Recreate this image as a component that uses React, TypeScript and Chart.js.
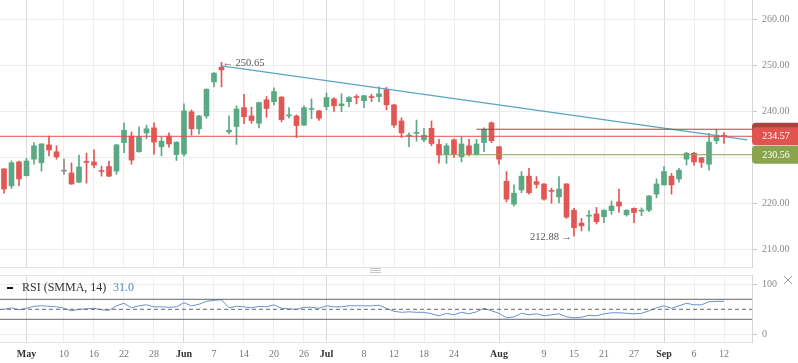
import React, { useEffect, useRef } from "react";
import { Chart, registerables } from "chart.js";
Chart.register(...registerables);

// ---------- data ----------
const opens = [227.5,223.8,229.0,226.0,229.6,228.8,232.7,231.2,227.0,226.6,224.6,229.0,229.0,227.1,228.0,227.0,233.2,234.6,231.2,235.3,236.4,232.3,234.6,230.6,230.7,239.9,236.2,239.0,246.4,249.6,235.5,236.7,240.8,239.0,237.4,242.5,242.1,243.1,239.0,239.0,237.0,240.4,240.1,241.0,242.7,241.2,242.1,243.2,242.3,243.2,243.2,244.8,241.4,237.9,234.6,235.2,233.8,236.3,232.8,230.7,233.8,230.1,232.5,230.7,233.2,237.5,232.3,224.8,219.8,222.9,225.9,224.7,224.2,222.8,221.4,224.2,218.5,215.7,217.2,217.7,217.1,218.4,220.3,217.5,218.9,218.3,218.5,222.0,224.0,225.9,225.3,229.6,230.9,229.9,228.5,233.6,234.7];
const highs = [227.5,229.2,229.2,229.8,233.2,233.0,234.6,232.5,229.6,228.8,230.5,230.9,231.6,228.1,229.2,232.8,237.5,235.5,236.6,237.0,237.5,234.5,235.3,233.4,241.6,240.3,239.1,244.9,248.4,250.65,239.0,241.2,243.7,240.9,242.0,243.2,245.1,243.2,240.8,239.2,241.2,242.7,240.2,244.0,243.0,243.8,243.2,243.6,243.5,243.7,245.3,245.2,241.5,238.6,235.3,238.1,236.3,237.9,233.9,233.0,234.0,234.5,233.9,233.9,236.4,237.7,232.4,226.9,224.0,226.9,227.6,225.8,224.3,223.3,225.8,224.3,218.9,216.7,218.4,219.1,218.6,220.5,223.1,218.6,219.0,219.0,221.7,225.3,228.0,226.5,227.6,231.1,231.1,230.0,235.2,236.1,235.4];
const lows = [222.2,223.2,223.8,225.9,228.5,227.0,230.3,229.6,226.3,224.1,224.5,224.4,227.7,225.9,225.8,226.3,231.0,228.5,231.1,234.0,230.7,230.3,232.2,229.3,230.3,234.8,235.1,238.5,245.3,245.3,235.1,232.8,237.3,237.4,236.4,238.7,241.4,237.7,238.5,234.3,236.9,238.4,238.0,240.3,240.0,239.9,241.0,241.6,240.8,242.1,242.1,240.3,236.5,234.3,232.3,233.5,233.4,232.5,228.7,228.7,230.0,229.0,230.3,230.5,231.2,233.2,228.5,220.3,219.4,222.3,222.0,223.3,220.7,220.0,220.1,216.7,212.88,214.0,214.0,215.5,215.8,217.6,218.0,217.2,215.8,217.3,218.2,221.2,224.0,222.0,224.6,228.3,228.3,227.8,227.2,233.0,233.0];
const closes = [223.1,228.8,225.3,229.2,232.5,232.9,231.6,230.1,227.0,224.2,227.9,228.9,228.3,226.9,225.9,232.7,235.9,229.4,234.5,236.2,233.3,233.5,232.9,233.3,240.1,236.2,239.0,244.8,248.3,249.0,235.9,240.5,238.8,238.0,241.9,240.6,244.3,238.2,239.1,236.9,240.8,240.6,238.5,243.0,241.2,241.6,243.0,243.0,243.4,243.0,243.8,241.4,237.0,235.3,234.8,235.4,234.8,233.0,230.5,232.5,230.7,232.9,230.7,232.9,236.1,233.6,229.6,220.9,222.2,225.9,222.3,224.1,220.9,222.6,223.1,217.0,214.7,215.1,217.4,216.0,218.5,219.4,219.4,218.5,218.0,218.5,221.6,224.2,226.9,224.0,227.2,230.9,229.0,228.9,233.3,234.8,234.57];
const rsiValues = [50,53,49,52,56,57,56,55,52,47,50,51,52,49,48,57,62,53,57,59,55,55,54,55,63,57,60,66,68,69,53,56,55,53,56,55,59,52,51,50,54,54,52,57,55,55,57,57,57,57,58,52,46,44,45,44,44,41,37,42,39,44,41,45,52,47,42,33,35,42,39,41,37,39,41,35,33,34,38,37,41,43,43,42,41,42,47,53,57,52,57,62,59,59,65,66,66];

const tickIndex = [3,8,12,16,20,24,28,32,36,40,43,48,52,56,60,66,72,76,80,84,88,92,96];
const tickLabels = ["May","10","16","22","28","Jun","7","14","20","26","Jul","8","12","18","24","Aug","9","15","21","27","Sep","6","12"];
const monthNames = ["May","Jun","Jul","Aug","Sep"];
const priceTicks = [210,220,230,240,250,260];
const rsiTicks = [0,100];

const lastClose = 234.57;
const supportLevel = 230.56;
const resistanceLevel = 236.1;
const supportStart = 58.1;
const resistanceStart = 63.0;
const trendX = [29.0, 99.1];
const trendY = [249.9, 233.8];
const highMarkIndex = 29;
const highMarkValue = 250.65;
const lowMarkIndex = 76;
const lowMarkValue = 212.88;
const rsiLegendValue = "31.0";

// ---------- view constants ----------
const X_MIN = -0.533;
const X_MAX = 99.733;
const FONT = "'Liberation Serif', 'Times New Roman', serif";
const GREEN = "#5ba885";
const RED = "#e05753";
const GRAY = "#8c8c8c";

const labelFor = (v: number) => {
  const k = tickIndex.indexOf(v);
  return k >= 0 ? tickLabels[k] : "";
};
const isMonth = (v: number) => monthNames.includes(labelFor(v));

const candleColors = opens.map((o, i) =>
  closes[i] > o ? GREEN : closes[i] < o ? RED : GRAY
);

const fitY = (s: any) => {
  s.width = 46;
  s.paddingTop = 0;
  s.paddingBottom = 0;
};

export default function App() {
  const mainRef = useRef<HTMLCanvasElement | null>(null);
  const rsiRef = useRef<HTMLCanvasElement | null>(null);

  useEffect(() => {
    const idx = opens.map((_, i) => i);
    const xGridColor = (ctx: any) =>
      ctx.tick && isMonth(ctx.tick.value) ? "#dadada" : "#efefef";

    const mainPlugin = {
      id: "mainDecor",
      afterDatasetsDraw(chart: any) {
        const { ctx, scales } = chart;
        const xs = scales.x, ys = scales.y;
        ctx.save();
        ctx.fillStyle = "#555";
        ctx.font = `10.5px ${FONT}`;
        ctx.textBaseline = "middle";
        ctx.textAlign = "left";
        ctx.fillText("\u2190 " + highMarkValue.toFixed(2), xs.getPixelForValue(highMarkIndex) + 1, ys.getPixelForValue(highMarkValue) + 1);
        ctx.textAlign = "right";
        ctx.fillText(lowMarkValue.toFixed(2) + " \u2192", xs.getPixelForValue(lowMarkIndex) - 2, ys.getPixelForValue(lowMarkValue) + 1);
        ctx.restore();
      },
      afterDraw(chart: any) {
        const { ctx, scales, chartArea } = chart;
        const ys = scales.y;
        const left = chartArea.right;
        const tag = (value: number, color: string, text: string | null, shift: number) => {
          const y = ys.getPixelForValue(value) + shift;
          ctx.beginPath();
          ctx.fillStyle = color;
          ctx.roundRect(left, y - 9, 50, 18, [4, 0, 0, 4]);
          ctx.fill();
          if (text) {
            ctx.fillStyle = "#fff";
            ctx.font = `10px ${FONT}`;
            ctx.textAlign = "center";
            ctx.textBaseline = "middle";
            ctx.fillText(text, left + 24, y + 0.5);
          }
        };
        ctx.save();
        tag(resistanceLevel, "#a8433f", null, 2.5);
        tag(lastClose, "#e0534f", lastClose.toFixed(2), 0);
        tag(supportLevel, "#8aa44c", supportLevel.toFixed(2), 0);
        ctx.restore();
      },
    };

    const main = new Chart(mainRef.current!, {
      type: "bar",
      data: {
        datasets: [
          {
            type: "line",
            data: [{ x: X_MIN, y: lastClose }, { x: X_MAX, y: lastClose }],
            borderColor: "#e0514d",
            borderWidth: 1,
            pointRadius: 0,
            order: 0,
          } as any,
          {
            type: "line",
            data: [{ x: resistanceStart, y: resistanceLevel }, { x: X_MAX, y: resistanceLevel }],
            borderColor: "#a8433f",
            borderWidth: 1,
            pointRadius: 0,
            order: 0,
          },
          {
            type: "line",
            data: [{ x: supportStart, y: supportLevel }, { x: X_MAX, y: supportLevel }],
            borderColor: "#8aa44c",
            borderWidth: 1,
            pointRadius: 0,
            order: 0,
          },
          {
            type: "line",
            data: [{ x: trendX[0], y: trendY[0] }, { x: trendX[1], y: trendY[1] }],
            borderColor: "#58a6c0",
            borderWidth: 1.3,
            pointRadius: 0,
            order: 0,
          },
          {
            type: "bar",
            data: idx.map((i) => ({ x: i, y: [lows[i], highs[i]] })),
            backgroundColor: candleColors,
            barThickness: 1,
            grouped: false,
            order: 2,
          },
          {
            type: "bar",
            data: idx.map((i) => ({ x: i, y: [opens[i], closes[i]] })),
            backgroundColor: candleColors,
            barThickness: 5,
            minBarLength: 1,
            grouped: false,
            order: 1,
          },
        ] as any,
      },
      options: {
        animation: false,
        responsive: false,
        maintainAspectRatio: false,
        layout: { padding: 0 },
        plugins: { legend: { display: false }, tooltip: { enabled: false } },
        scales: {
          x: {
            type: "linear",
            offset: false,
            min: X_MIN,
            max: X_MAX,
            afterBuildTicks: (s: any) => { s.ticks = tickIndex.map((v) => ({ value: v })); },
            ticks: { display: false },
            grid: { color: xGridColor, drawTicks: false, offset: false },
            border: { display: true, color: "#e2e2e2" },
            afterFit: (s: any) => { s.height = 1; s.paddingLeft = 0; s.paddingRight = 0; },
          },
          y: {
            position: "right",
            min: 206.15,
            max: 264.2,
            afterBuildTicks: (s: any) => { s.ticks = priceTicks.map((v) => ({ value: v })); },
            ticks: {
              callback: (v: any) => Number(v).toFixed(2),
              font: { family: FONT, size: 10 },
              color: "#8a8a8a",
              padding: 5,
            },
            grid: { color: "#ececec", tickLength: 5, tickColor: "#c8c8c8" },
            border: { color: "#d6d6d6" },
            afterFit: fitY,
          },
        },
      } as any,
      plugins: [mainPlugin],
    });

    const rsiPlugin = {
      id: "rsiDecor",
      afterDraw(chart: any) {
        const { ctx, chartArea } = chart;
        ctx.save();
        ctx.strokeStyle = "#e2e2e2";
        ctx.lineWidth = 1;
        ctx.beginPath();
        ctx.moveTo(0, chartArea.top + 0.5);
        ctx.lineTo(chartArea.right, chartArea.top + 0.5);
        ctx.stroke();
        ctx.strokeStyle = "#c8c8c8";
        for (let k = 0; k < 3; k++) {
          ctx.beginPath();
          ctx.moveTo(370, 1.5 + k * 2);
          ctx.lineTo(381, 1.5 + k * 2);
          ctx.stroke();
        }
        ctx.strokeStyle = "#9a9a9a";
        ctx.beginPath();
        ctx.moveTo(784, 9); ctx.lineTo(792, 17);
        ctx.moveTo(792, 9); ctx.lineTo(784, 17);
        ctx.stroke();
        ctx.fillStyle = "#111";
        ctx.fillRect(7, 20, 6, 2);
        ctx.font = `12px ${FONT}`;
        ctx.textBaseline = "middle";
        ctx.textAlign = "left";
        ctx.fillStyle = "#333";
        ctx.fillText("RSI (SMMA, 14)", 22, 21);
        ctx.fillStyle = "#5b85c2";
        ctx.fillText(rsiLegendValue, 113, 21);
        ctx.restore();
      },
    };

    const rsi = new Chart(rsiRef.current!, {
      type: "line",
      data: {
        datasets: [
          {
            data: [{ x: X_MIN, y: 70 }, { x: X_MAX, y: 70 }],
            borderColor: "#666",
            borderWidth: 1,
            pointRadius: 0,
          },
          {
            data: [{ x: X_MIN, y: 30 }, { x: X_MAX, y: 30 }],
            borderColor: "#666",
            borderWidth: 1,
            pointRadius: 0,
          },
          {
            data: [{ x: X_MIN, y: 50 }, { x: X_MAX, y: 50 }],
            borderColor: "#666",
            borderWidth: 1,
            borderDash: [4, 3],
            pointRadius: 0,
          },
          {
            data: rsiValues.map((v, i) => ({ x: i, y: v })),
            borderColor: "#6a92c9",
            borderWidth: 1,
            pointRadius: 0,
            tension: 0,
          },
        ],
      },
      options: {
        animation: false,
        responsive: false,
        maintainAspectRatio: false,
        layout: { padding: { top: 8 } },
        plugins: { legend: { display: false }, tooltip: { enabled: false } },
        scales: {
          x: {
            type: "linear",
            offset: false,
            min: X_MIN,
            max: X_MAX,
            afterBuildTicks: (s: any) => { s.ticks = tickIndex.map((v) => ({ value: v })); },
            ticks: {
              autoSkip: false,
              maxRotation: 0,
              padding: 6,
              callback: (v: any) => labelFor(Number(v)),
              font: (ctx: any) => ({
                family: FONT,
                size: 10,
                weight: ctx.tick && isMonth(ctx.tick.value) ? "bold" : "normal",
              }),
              color: (ctx: any) => (ctx.tick && isMonth(ctx.tick.value) ? "#333" : "#777"),
            },
            grid: { color: xGridColor, drawTicks: false },
            border: { display: true, color: "#e2e2e2" },
            afterFit: (s: any) => { s.height = 21; s.paddingLeft = 0; s.paddingRight = 0; },
          },
          y: {
            position: "right",
            min: -15.4,
            max: 118.6,
            afterBuildTicks: (s: any) => { s.ticks = rsiTicks.map((v) => ({ value: v })); },
            ticks: {
              font: { family: FONT, size: 10 },
              color: "#8a8a8a",
              padding: 5,
            },
            grid: { color: "#ececec", tickLength: 5, tickColor: "#c8c8c8" },
            border: { color: "#d6d6d6" },
            afterFit: fitY,
          },
        },
      } as any,
      plugins: [rsiPlugin],
    });

    return () => {
      main.destroy();
      rsi.destroy();
    };
  }, []);

  return (
    <div style={{ position: "fixed", left: 0, top: 0, width: 798, height: 363, background: "#fff", overflow: "hidden" }}>
      <canvas ref={mainRef} width={798} height={268} style={{ position: "absolute", left: 0, top: 0, width: 798, height: 268 }} />
      <canvas ref={rsiRef} width={798} height={96} style={{ position: "absolute", left: 0, top: 267, width: 798, height: 96 }} />
    </div>
  );
}
